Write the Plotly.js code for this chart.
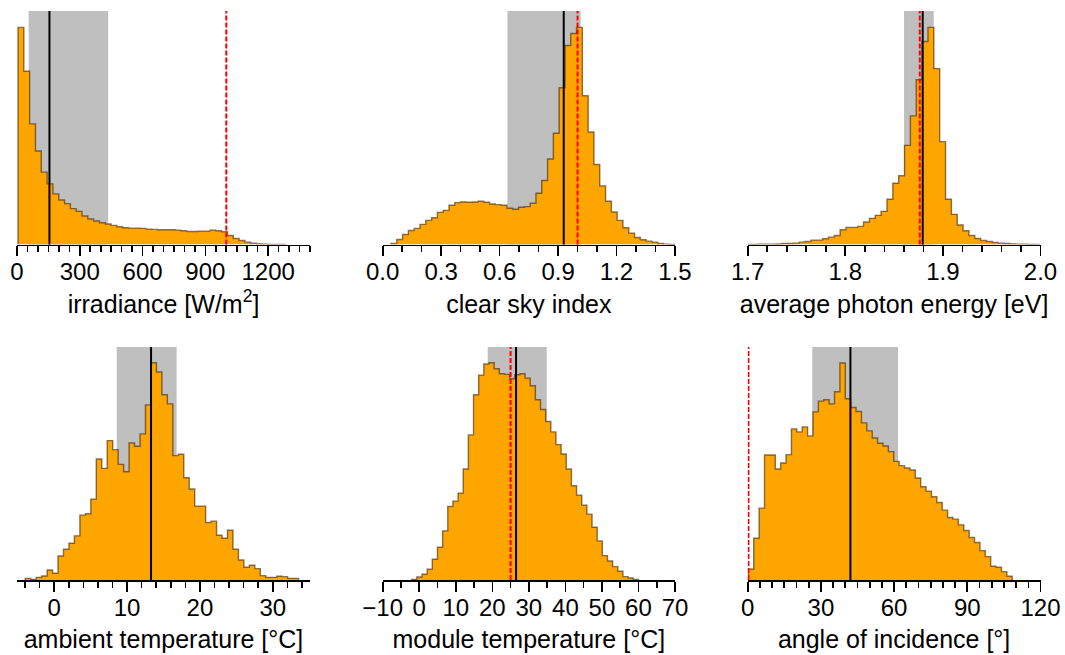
<!DOCTYPE html>
<html><head><meta charset="utf-8">
<script src="https://cdn.plot.ly/plotly-3.0.1.min.js"></script>
<style>html,body{margin:0;padding:0;background:#fff}#chart{width:1065px;height:655px}</style>
</head><body><div id="chart"></div>
<script>
// ---------- data (heights in arbitrary units) ----------
const irrBinStart = 4.8, irrBinWidth = 27.8;
const irrCounts = [648,517,360,279,216,181,151,133,122,107,99,85,76,70,65,61,57,53,50,49,49,48,46,45,44,44,44,43,41,39,39,40,40,43,41,38,27,18,12,7,4,2,1,0.5,0.3,0.2];

const csiBinStart = 0.0425, csiBinWidth = 0.02976;
const csiCounts = [3,15,30,42,48,60,72,80,96,102,117,125,127,126,127,129,126,121,119,117,108,105,111,113,123,153,191,255,332,468,594,630,648,444,336,239,175,129,97,72,50,34,21,14,10,7,3,1,0.5];

const apeBinStart = 1.6987, apeBinWidth = 0.006;
const apeCounts = [0.3,0.5,1,1,1,1.5,3,3,4,7,9,13,13,17,22,27,44,51,51,54,67,78,87,99,135,183,205,296,384,492,606,648,525,307,135,90,58,41,27,18,12,9,6,4,3,2,1,1,0.5,0.3];

const ambBinStart = -3.97, ambBinWidth = 0.75;
const ambCounts = [5,2,8,12,30,20,72,92,110,132,194,198,242,362,334,417,390,346,324,410,400,437,524,650,622,554,527,372,376,306,272,221,221,172,176,134,125,149,92,60,38,44,34,13,8,8,11,10,5,5];

const modBinStart = -2.06, modBinWidth = 1.41;
const modCounts = [2,9,17,32,62,98,147,220,236,260,332,434,554,613,646,650,632,617,615,602,614,617,604,581,539,510,474,443,405,377,332,282,254,224,197,158,117,73,57,40,26,10,6,2];

const aoiBinStart = 0.27, aoiBinWidth = 2.207;
const aoiCounts = [33,125,215,374,374,332,350,375,452,443,458,431,503,535,539,527,563,649,542,516,504,470,446,425,409,401,384,355,342,335,329,305,279,266,249,232,209,187,182,165,148,127,112,88,70,41,38,25,11];

const axisTitles = ['irradiance [W/m<sup>2</sup>]','clear sky index','average photon energy [eV]',
                    'ambient temperature [°C]','module temperature [°C]','angle of incidence [°]'];
const iqrLow  = [55.8, 0.64, 1.8602, 8.58, 18.74, 26.45];
const iqrHigh = [435.6, 1.016, 1.8906, 16.8, 34.9, 61.6];
const medians = [155, 0.929, 1.8793, 13.29, 26.5, 42.1];
const references = [1000, 1.0, 1.8763, null, 25, 0.3];

const xRanges = [[0,1400],[0,1.5],[1.7,2.0],[-5.1,35.1],[-10,70],[0,120]];
const tickVals = [[0,300,600,900,1200],[0,0.3,0.6,0.9,1.2,1.5],[1.7,1.8,1.9,2.0],[0,10,20,30],[-10,0,10,20,30,40,50,60,70],[0,30,60,90,120]];
const tickText = [['0','300','600','900','1200'],['0.0','0.3','0.6','0.9','1.2','1.5'],['1.7','1.8','1.9','2.0'],['0','10','20','30'],['\u221210','0','10','20','30','40','50','60','70'],['0','30','60','90','120']];
const minorDtick = [50,0.1,0.02,2,5,5];
const minorTick0 = [0,0,1.7,0,-10,0];

const binStarts = [irrBinStart,csiBinStart,apeBinStart,ambBinStart,modBinStart,aoiBinStart];
const binWidths = [irrBinWidth,csiBinWidth,apeBinWidth,ambBinWidth,modBinWidth,aoiBinWidth];
const counts = [irrCounts,csiCounts,apeCounts,ambCounts,modCounts,aoiCounts];

// ---------- layout geometry ----------
const W = 1065, H = 655;
const colX = [[17,310],[382.7,675],[747.7,1040.5]];
const rowY = [[11,244.5],[347,580]];
const FONT = 'Liberation Sans, Arial, Helvetica, sans-serif';

const traces = [];
const shapes = [];
const layout = {
  width: W, height: H, margin: {l:0,r:0,t:0,b:0},
  paper_bgcolor: '#fff', plot_bgcolor: 'rgba(0,0,0,0)',
  showlegend: false, font: {family: FONT, color: '#000'},
};

for (let p = 0; p < 6; p++) {
  const r = Math.floor(p/3), c = p % 3;
  const n = p + 1;
  const xa = 'x' + (n === 1 ? '' : n), ya = 'y' + (n === 1 ? '' : n);
  const xk = 'xaxis' + (n === 1 ? '' : n), yk = 'yaxis' + (n === 1 ? '' : n);
  const cs = counts[p], s = binStarts[p], w = binWidths[p];
  const xs = [s], ys = [0];
  for (let i = 0; i < cs.length; i++) { xs.push(s + i*w); ys.push(cs[i]); }
  xs.push(s + cs.length*w); ys.push(cs[cs.length-1]);
  xs.push(s + cs.length*w); ys.push(0);
  traces.push({
    type: 'scatter', mode: 'lines', x: xs, y: ys, xaxis: xa, yaxis: ya,
    line: {shape: 'hv', color: 'rgba(60,35,0,0.6)', width: 1.4},
    fill: 'tozeroy', fillcolor: '#FFA500', hoverinfo: 'skip'
  });
  layout[xk] = {
    domain: [colX[c][0]/W, colX[c][1]/W], anchor: ya,
    range: xRanges[p], showgrid: false, zeroline: false,
    showline: true, linecolor: '#000', linewidth: 1.8,
    ticks: 'outside', ticklen: 10, tickwidth: 1.6, tickcolor: '#000',
    tickmode: 'array', tickvals: tickVals[p], ticktext: tickText[p],
    tickfont: {family: FONT, size: 24, color: '#000'},
    ticklabelstandoff: -5,
    minor: {ticks: 'outside', ticklen: 6, tickwidth: 1.6, tickcolor: '#000', tickmode: 'linear', tick0: minorTick0[p], dtick: minorDtick[p], showgrid: false},
    title: {text: axisTitles[p], font: {family: FONT, size: 25, color: '#000'}, standoff: 11},
    automargin: false, fixedrange: true
  };
  layout[yk] = {
    domain: [1 - rowY[r][1]/H, 1 - rowY[r][0]/H], anchor: xa,
    range: [0, 697], visible: false, fixedrange: true
  };
  shapes.push({type: 'rect', xref: xa, yref: ya + ' domain', x0: iqrLow[p], x1: iqrHigh[p], y0: 0, y1: 1,
               fillcolor: '#bfbfbf', line: {width: 0}, layer: 'below'});
  shapes.push({type: 'line', xref: xa, yref: ya + ' domain', x0: medians[p], x1: medians[p], y0: 0, y1: 1,
               line: {color: '#000', width: 2}, layer: 'above'});
  if (references[p] !== null) {
    shapes.push({type: 'line', xref: xa, yref: ya + ' domain', x0: references[p], x1: references[p], y0: 0, y1: 1,
                 line: {color: '#ff0000', width: 2, dash: '5px,2px'}, layer: 'above'});
  }
}
layout.shapes = shapes;
Plotly.newPlot('chart', traces, layout, {staticPlot: true, displayModeBar: false});
</script></body></html>
